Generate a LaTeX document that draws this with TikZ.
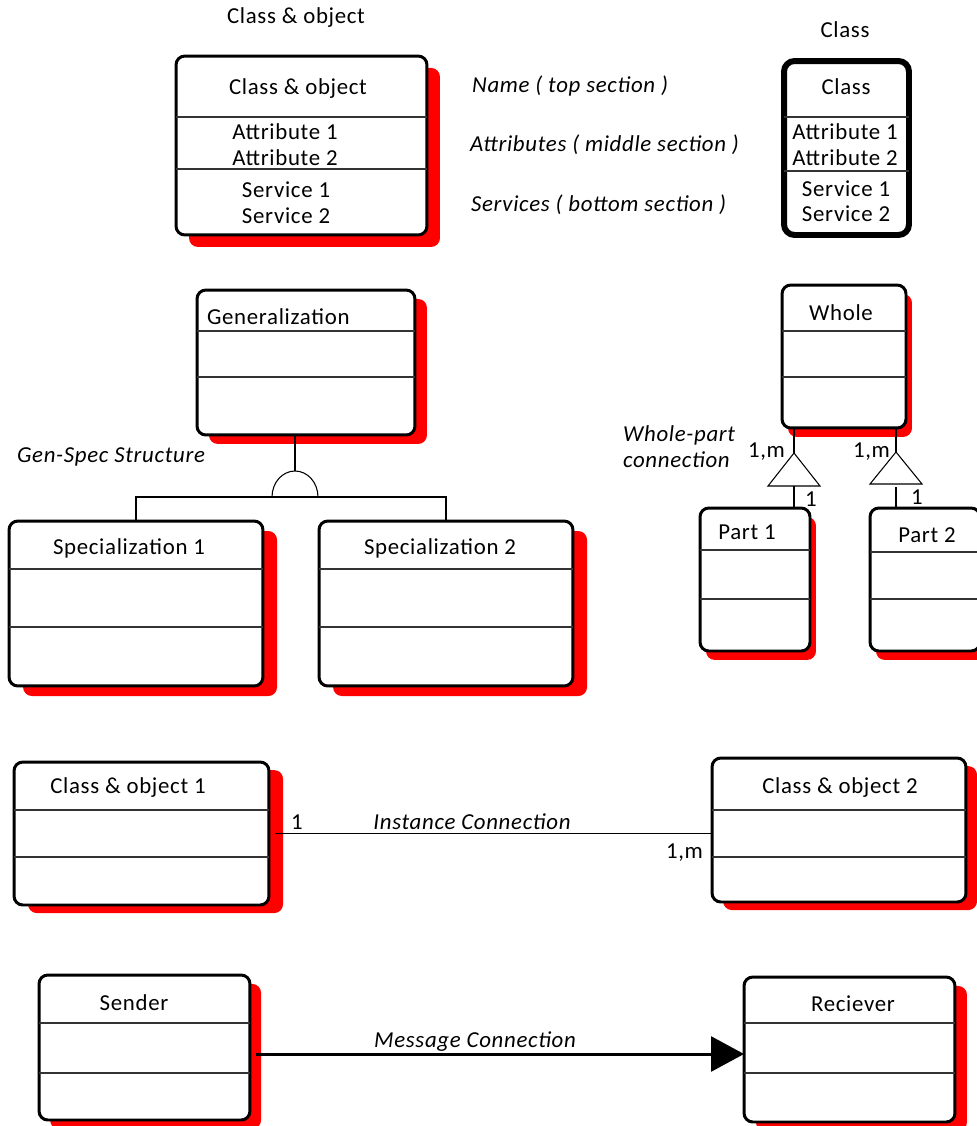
\documentclass[tikz,border=0pt]{standalone}
\usepackage{fontspec}
\setmainfont{Carlito}[LetterSpace=3]
\usetikzlibrary{shadows,arrows.meta}
\tikzset{
	box/.style={draw, line width=1.7pt, fill=white, rounded corners=5pt, inner sep=0pt, outer sep=0pt},
	redshadow/.style 2 args={drop shadow={fill=red, opacity=1, shadow xshift=#1, shadow yshift=#2}},
	sect/.style={line width=0.6pt, black!80},
	link/.style={line width=0.6pt},
	msg/.style={line width=1.7pt, -{Triangle[length=18.7pt,width=19.8pt]}},
	note/.style={font=\fontsize{13}{14.5}\selectfont\itshape}
}
\begin{document}
\begin{tikzpicture}[x=0.02cm, y=-0.02cm, font=\fontsize{13}{14.5}\selectfont, inner sep=1pt]
		\useasboundingbox (0,0) rectangle (977,1126);
		% class & object / class
		\node at (296,18)(cotitle){Class \& object};
		\node at (845,30)(clstitle){Class};
		\node[box, redshadow={7.4pt}{-6.8pt}, minimum width=5.02cm, minimum height=3.58cm] at (301.5,145.5)(co){};
		\node[box, line width=3.4pt, rounded corners=6pt, minimum width=2.5cm, minimum height=3.48cm] at (846.5,148)(cls){};
		\draw[sect] (co.west |- 0,117) -- (co.east |- 0,117) (co.west |- 0,169) -- (co.east |- 0,169);
		\draw[sect] (cls.west |- 0,117) -- (cls.east |- 0,117) (cls.west |- 0,171) -- (cls.east |- 0,171);
		\node at (298,89)(coname){Class \& object};
		\node[align=center] at (285,144.5)(coattr){Attribute 1\\Attribute 2};
		\node[align=center] at (286,202.5)(coserv){Service 1\\Service 2};
		\node at (846,87)(clsname){Class};
		\node[align=center] at (845,144.5)(clsattr){Attribute 1\\Attribute 2};
		\node[align=center] at (846,201)(clsserv){Service 1\\Service 2};
		\node[note, anchor=west] at (470,86)(n1){Name ( top section )};
		\node[note, anchor=west] at (468,145)(n2){Attributes ( middle section )};
		\node[note, anchor=west] at (469,205)(n3){Services ( bottom section )};
		% gen-spec
		\node[box, redshadow={6.8pt}{-5.1pt}, minimum width=4.36cm, minimum height=2.9cm] at (306,362.5)(gen){};
		\node[box, redshadow={8pt}{-5.7pt}, minimum width=5.08cm, minimum height=3.3cm] at (136,603.5)(spec1){};
		\node[box, redshadow={8pt}{-5.7pt}, minimum width=5.08cm, minimum height=3.3cm] at (446,603.5)(spec2){};
		\draw[sect] (gen.west |- 0,331) -- (gen.east |- 0,331) (gen.west |- 0,377) -- (gen.east |- 0,377);
		\draw[sect] (spec1.west |- 0,569) -- (spec1.east |- 0,569) (spec1.west |- 0,627) -- (spec1.east |- 0,627);
		\draw[sect] (spec2.west |- 0,569) -- (spec2.east |- 0,569) (spec2.west |- 0,627) -- (spec2.east |- 0,627);
		\node[anchor=west] at (205,317)(genname){Generalization};
		\node at (129,548)(spec1name){Specialization 1};
		\node at (440,548)(spec2name){Specialization 2};
		\node[note, anchor=west] at (15,457)(gsnote){Gen-Spec Structure};
		\coordinate (gs) at (295,497);
		\draw[link] (gen.south -| gs) -- ([yshift=0.52cm]gs);
		\draw[link] ([xshift=-0.46cm]gs) arc[start angle=180, end angle=0, x radius=0.46cm, y radius=0.52cm];
		\draw[link] (spec1.north) |- (gs) -| (spec2.north);
		% whole-part
		\node[box, redshadow={3.4pt}{-5.1pt}, minimum width=2.48cm, minimum height=2.86cm] at (844,356.5)(whole){};
		\node[box, redshadow={3.4pt}{-5.1pt}, minimum width=2.2cm, minimum height=2.86cm] at (755,579.5)(part1){};
		\node[box, redshadow={3.4pt}{-5.1pt}, minimum width=2.2cm, minimum height=2.86cm] at (925,579.5)(part2){};
		\draw[sect] (whole.west |- 0,331) -- (whole.east |- 0,331) (whole.west |- 0,377) -- (whole.east |- 0,377);
		\draw[sect] (part1.west |- 0,550) -- (part1.east |- 0,550) (part1.west |- 0,599) -- (part1.east |- 0,599);
		\draw[sect] (part2.west |- 0,552) -- (part2.east |- 0,552) (part2.west |- 0,599) -- (part2.east |- 0,599);
		\node at (841,313)(wholename){Whole};
		\node at (747,532)(part1name){Part 1};
		\node at (927,535)(part2name){Part 2};
		\coordinate (t1) at (794,453);
		\coordinate (t2) at (896,452);
		\draw[link] (whole.south -| t1) -- (t1);
		\draw[link] (whole.south -| t2) -- (t2);
		\draw[link, fill=white] (t1) -- ++(-26,33) -- ++(52,0) -- cycle;
		\draw[link, fill=white] (t2) -- ++(-26,32) -- ++(52,0) -- cycle;
		\draw[link] ([yshift=-0.66cm]t1) -- (part1.north -| t1);
		\draw[link] ([yshift=-0.7cm]t2) -- (part2.north -| t2);
		\node[anchor=east] at (787,452)(m1){1,m};
		\node[anchor=east] at (892,452)(m2){1,m};
		\node[anchor=west] at (803,499)(o1){1};
		\node[anchor=west] at (909,497)(o2){1};
		\node[note, anchor=west] at (621,435)(wp1){Whole-part};
		\node[note, anchor=west] at (621,460)(wp2){connection};
		% instance connection
		\node[box, redshadow={8pt}{-4.6pt}, minimum width=5.1cm, minimum height=2.86cm] at (141.5,833.5)(co1){};
		\node[box, redshadow={6.3pt}{-4.6pt}, minimum width=5.08cm, minimum height=2.88cm] at (839,830)(co2){};
		\draw[sect] (co1.west |- 0,810) -- (co1.east |- 0,810) (co1.west |- 0,857) -- (co1.east |- 0,857);
		\draw[sect] (co2.west |- 0,810) -- (co2.east |- 0,810) (co2.west |- 0,857) -- (co2.east |- 0,857);
		\node at (128,788)(co1name){Class \& object 1};
		\node at (840,788)(co2name){Class \& object 2};
		\draw[link, shorten <=3.4pt] (co1.east) -- (co2.west |- co1.east);
		\node at (297,822)(i1){1};
		\node[note] at (472,822)(inote){Instance Connection};
		\node[anchor=east] at (705,853)(im){1,m};
		% message connection
		\node[box, redshadow={6.3pt}{-5.1pt}, minimum width=4.22cm, minimum height=2.9cm] at (144.5,1047.5)(sender){};
		\node[box, redshadow={6.8pt}{-5.1pt}, minimum width=4.22cm, minimum height=2.9cm] at (849.5,1049.5)(receiver){};
		\draw[sect] (sender.west |- 0,1023) -- (sender.east |- 0,1023) (sender.west |- 0,1073) -- (sender.east |- 0,1073);
		\draw[sect] (receiver.west |- 0,1023) -- (receiver.east |- 0,1023) (receiver.west |- 0,1073) -- (receiver.east |- 0,1073);
		\node at (134,1003)(sendername){Sender};
		\node at (853,1004)(receivername){Reciever};
		\draw[msg, shorten <=3.4pt] (sender.east |- 0,1054) -- (receiver.west |- 0,1054);
		\node[note] at (475,1042)(mnote){Message Connection};
	\end{tikzpicture}
\end{document}
